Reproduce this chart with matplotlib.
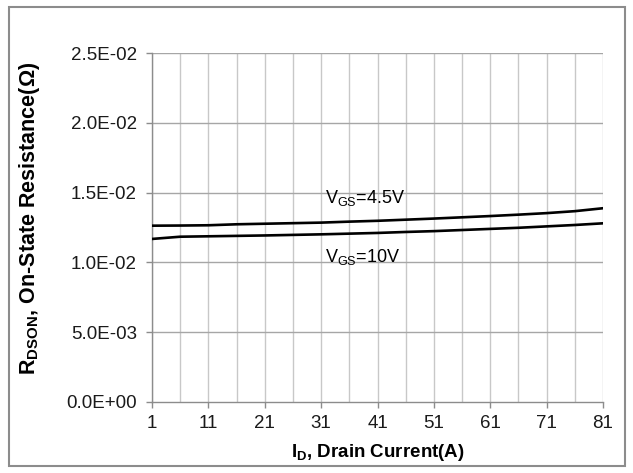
"""
RDSON vs drain current for two gate voltages
"""
import matplotlib.pyplot as plt
import numpy as np
from matplotlib.patches import Rectangle

plt.rcParams['font.family'] = ['Liberation Sans', 'DejaVu Sans']
plt.rcParams['mathtext.fontset'] = 'custom'
plt.rcParams['mathtext.rm'] = 'Liberation Sans'
plt.rcParams['mathtext.bf'] = 'Liberation Sans:bold'

# Data
current = [1, 6, 11, 16, 21, 26, 31, 36, 41, 46, 51, 56, 61, 66, 71, 76, 81]
rdson_45v = [0.01263, 0.01264, 0.01266, 0.01273, 0.01277, 0.01281, 0.01285, 0.01292, 0.01298,
             0.01306, 0.01314, 0.01323, 0.01332, 0.01342, 0.01353, 0.01367, 0.01388]
rdson_10v = [0.01168, 0.01184, 0.01187, 0.01190, 0.01193, 0.01197, 0.01201, 0.01206, 0.01211,
             0.01218, 0.01224, 0.01232, 0.01240, 0.01248, 0.01258, 0.01268, 0.01280]
x_ticks = [1, 11, 21, 31, 41, 51, 61, 71, 81]
y_ticks = [0.0, 0.005, 0.010, 0.015, 0.020, 0.025]
y_labels = ['0.0E+00', '5.0E-03', '1.0E-02', '1.5E-02', '2.0E-02', '2.5E-02']

fig = plt.figure(figsize=(6.33, 4.73), dpi=100)
ax = fig.add_axes([152 / 633, 1 - 402 / 473, (603 - 152) / 633, (402 - 53) / 473])

# Gridlines
for xv in range(1, 82, 5):
    ax.axvline(xv, color='#c8c8c8', linewidth=1.0, zorder=0)
for yv in y_ticks[1:]:
    ax.axhline(yv, color='#a6a6a6', linewidth=1.0, zorder=0)

ax.plot(current, rdson_45v, color='black', linewidth=1.9, zorder=3)
ax.plot(current, rdson_10v, color='black', linewidth=1.9, zorder=3)

ax.set_xlim(1, 81)
ax.set_ylim(0, 0.025)
ax.set_xticks(x_ticks)
ax.set_xticklabels([str(v) for v in x_ticks], fontsize=13.5)
ax.set_yticks(y_ticks)
ax.set_yticklabels(y_labels, fontsize=13.5)
ax.tick_params(axis='both', colors='#8c8c8c', length=4.5, width=1.0, labelcolor='#1a1a1a')
ax.tick_params(axis='x', pad=5)
ax.tick_params(axis='y', pad=6.5)

for s in ['top', 'right']:
    ax.spines[s].set_visible(False)
for s in ['left', 'bottom']:
    ax.spines[s].set_color('#8c8c8c')
    ax.spines[s].set_linewidth(1.0)

ax.text(31.6, 0.01425, r'V$_{\mathregular{GS}}$=4.5V', fontsize=13, va='baseline', ha='left')
ax.text(31.6, 0.01003, r'V$_{\mathregular{GS}}$=10V', fontsize=13, va='baseline', ha='left')

ax.set_xlabel(r'I$_{\mathbf{D}}$, Drain Current(A)', fontsize=13.5, fontweight='bold')
ax.xaxis.set_label_coords(0.5, (402 - 442) / 349)
ax.set_ylabel(r'R$_{\mathbf{DSON}}$, On-State Resistance($\mathbf{\Omega}$)', fontsize=15.5,
              fontweight='bold')
ax.yaxis.set_label_coords((42 - 152) / 451, (402 - 218.5) / 349)

# Outer chart border
fig.patches.append(Rectangle((9 / 633, 1 - 466 / 473), (625 - 9) / 633, (466 - 7) / 473,
                             transform=fig.transFigure, fill=False, edgecolor='#8c8c8c',
                             linewidth=1.5))

plt.savefig('out.png', dpi=100)
